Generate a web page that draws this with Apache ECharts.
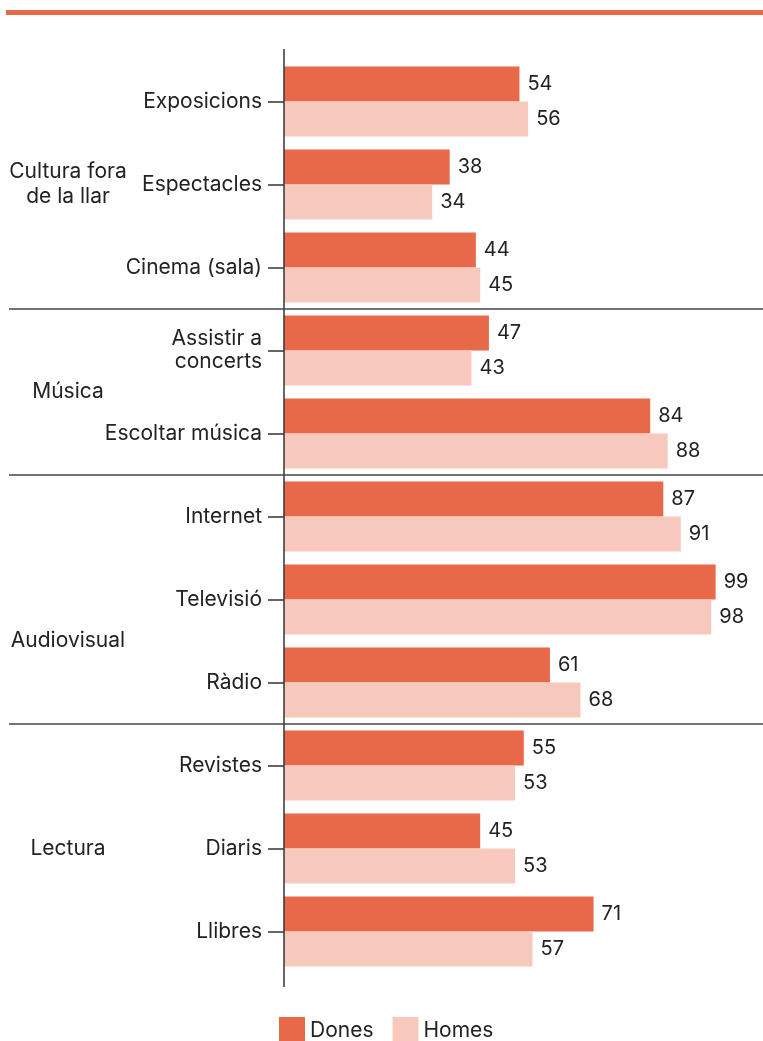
<!DOCTYPE html>
<html>
<head>
<meta charset="utf-8">
<script src="https://cdn.jsdelivr.net/npm/echarts@6/dist/echarts.min.js"></script>
<style>
  html, body { margin: 0; padding: 0; background: #fff; }
  #chart { width: 763px; height: 1041px; }
</style>
</head>
<body>
<div id="chart"></div>
<script>
const categories = [
    'Exposicions', 'Espectacles', 'Cinema (sala)',
    'Assistir a\nconcerts', 'Escoltar música',
    'Internet', 'Televisió', 'Ràdio',
    'Revistes', 'Diaris', 'Llibres',
];
const dones = [54, 38, 44, 47, 84, 87, 99, 61, 55, 45, 71];
const homes = [56, 34, 45, 43, 88, 91, 98, 68, 53, 53, 57];

// group name, first and last category index
const groupNames = ['Cultura fora\nde la llar', 'Música', 'Audiovisual', 'Lectura'];
const groupFrom = [0, 3, 5, 8];
const groupTo = [2, 4, 7, 10];
// where the group label sits (category index, may be fractional)
const groupLabelAt = [1, 3.5, 6.5, 9];

const DARK = '#E8684A';
const LIGHT = '#F7C9BD';
const TEXT = '#222';
const FONT = 'Inter, "Noto Sans", sans-serif';
const FS = 20;
const FS_CAT = 21;

const chart = echarts.init(document.getElementById('chart'));

chart.setOption({
    animation: false,
    textStyle: { fontFamily: FONT },
    grid: { left: 284, right: 43, top: 60, bottom: 68, outerBoundsMode: 'none' },
    legend: {
        top: 1017,
        left: 279,
        padding: 0,
        itemWidth: 26,
        itemHeight: 28,
        itemGap: 19,
        icon: 'rect',
        textStyle: { color: TEXT, fontSize: FS_CAT, fontFamily: FONT },
        data: ['Dones', 'Homes'],
    },
    xAxis: { type: 'value', min: 0, max: 100, show: false },
    yAxis: {
        type: 'category',
        inverse: true,
        data: categories,
        axisLine: { show: false },
        axisTick: { show: true, alignWithLabel: true, length: 16, lineStyle: { color: '#333', width: 1.5 } },
        axisLabel: { margin: 22, color: TEXT, fontSize: FS_CAT, lineHeight: 23, fontFamily: FONT, align: 'right' },
    },
    series: [
        {
            name: 'Dones', type: 'bar', data: dones,
            barWidth: 35, barGap: '0%',
            itemStyle: { color: DARK },
            label: { show: true, position: 'right', distance: 8, color: TEXT, fontSize: FS, fontFamily: FONT },
        },
        {
            name: 'Homes', type: 'bar', data: homes,
            barWidth: 35, barGap: '0%',
            itemStyle: { color: LIGHT },
            label: { show: true, position: 'right', distance: 8, color: TEXT, fontSize: FS, fontFamily: FONT },
        },
    ],
});

function catY(idx) {
    const lo = Math.floor(idx), hi = Math.ceil(idx);
    const a = chart.convertToPixel({ yAxisIndex: 0 }, lo);
    const b = chart.convertToPixel({ yAxisIndex: 0 }, hi);
    return a + (b - a) * (idx - lo);
}

const axisX = chart.convertToPixel({ xAxisIndex: 0 }, 0);
const graphics = [
    // top rule
    { type: 'rect', shape: { x: 6, y: 10, width: 757, height: 5 }, style: { fill: DARK } },
    // vertical axis line, a bit longer than the band area
    { type: 'line', shape: { x1: axisX, y1: catY(-0.5) - 11, x2: axisX, y2: catY(categories.length - 0.5) + 14 },
      style: { stroke: '#333', lineWidth: 1.5 }, z: 10 },
];
for (let g = 0; g < groupNames.length; g++) {
    graphics.push({
        type: 'text',
        x: 68, y: catY(groupLabelAt[g]),
        style: { text: groupNames[g], fill: TEXT, font: FS_CAT + 'px ' + FONT, align: 'center', verticalAlign: 'middle', lineHeight: 25 },
    });
    if (g < groupNames.length - 1) {
        const y = (catY(groupTo[g]) + catY(groupFrom[g + 1])) / 2;
        graphics.push({ type: 'line', shape: { x1: 9, y1: y, x2: 763, y2: y }, style: { stroke: '#444', lineWidth: 1.5 }, z: 10 });
    }
}
chart.setOption({ graphic: graphics });
</script>
</body>
</html>
